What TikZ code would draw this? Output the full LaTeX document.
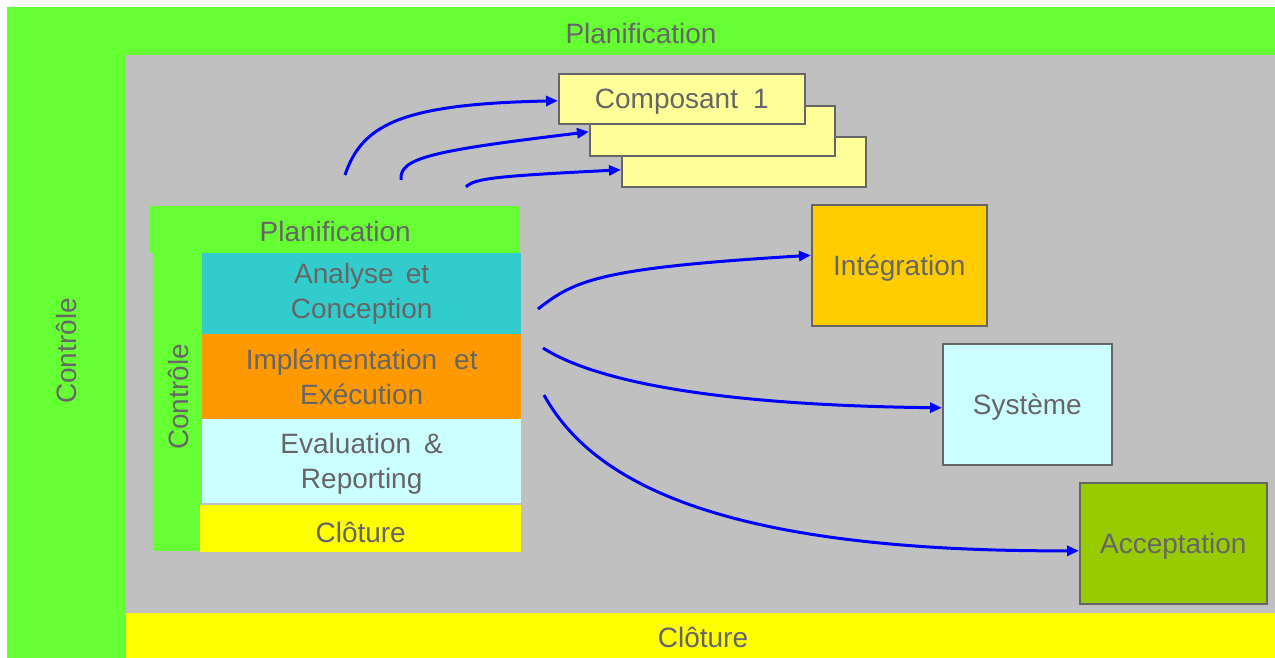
\documentclass[tikz,border=0pt]{standalone}
\usepackage{fontspec}
\setmainfont{Liberation Sans}
\usetikzlibrary{arrows.meta}
\definecolor{bandgreen}{HTML}{66FF33}
\definecolor{field}{HTML}{C0C0C0}
\definecolor{bandyellow}{HTML}{FFFF00}
\definecolor{teal}{HTML}{33CCCC}
\definecolor{orangeb}{HTML}{FF9900}
\definecolor{paleblue}{HTML}{CCFFFF}
\definecolor{paleyellow}{HTML}{FFFF99}
\definecolor{gold}{HTML}{FFCC00}
\definecolor{olive}{HTML}{99CC00}
\definecolor{txt}{HTML}{666666}
\definecolor{flow}{HTML}{0000FF}
\tikzset{
  lbl/.style={text=txt, font=\fontsize{28}{35}\selectfont, align=center},
  area/.style={rectangle, inner sep=0pt, anchor=north west, draw=none, lbl},
  level/.style={rectangle, inner sep=0pt, anchor=north west, draw=txt, line width=1.6pt, lbl, text depth=0pt},
  flowarrow/.style={draw=flow, line width=3pt, -{Triangle[length=12pt,width=10pt]}},
}
\begin{document}
\begin{tikzpicture}[x=1pt, y=-1pt]
\useasboundingbox (0,0) rectangle (1275,658);

% outer frame: planning band, control column, work area, closure band
\node[area, fill=bandgreen, minimum width=1268pt, minimum height=651pt] (frame) at (7,7) {};
\node[area, fill=field, minimum width=1149pt, minimum height=558pt] (work) at (126,55) {};
\node[area, fill=bandyellow, minimum width=1149pt, minimum height=45pt] (closeband) at (126,613) {};
\node[lbl] (planTop) at (641,33) {Planification};
\node[lbl, rotate=90] (ctrlOut) at (66,351) {Contrôle};
\node[lbl] (closeOut) at (703,637) {Clôture};

% inner process block
\node[area, fill=bandgreen, minimum width=370pt, minimum height=47pt, text height=24.5pt] (planIn) at (150,206) {Planification};
\node[area, fill=bandgreen, minimum width=49pt, minimum height=298pt] (ctrlIn) at (153,253) {};
\node[lbl, rotate=90] (ctrlInTxt) at (178,397) {Contrôle};
\node[area, fill=teal, minimum width=319pt, minimum height=81pt] (analyse) at (202,253) {Analyse\hspace{12pt}et\\Conception};
\node[area, fill=orangeb, minimum width=319pt, minimum height=85pt] (impl) at (202,334) {Implémentation\hspace{17pt}et\\Exécution};
\node[area, fill=paleblue, minimum width=319pt, minimum height=84pt, text depth=0pt] (eval) at (202,419) {Evaluation\hspace{13pt}\&\\Reporting};
\node[area, fill=bandyellow, minimum width=321pt, minimum height=47pt, text height=27pt] (cloture) at (200,505) {Clôture};

% component test levels (stacked)
\node[level, fill=paleyellow, minimum width=244pt, minimum height=50pt] (comp3) at (621,136) {};
\node[level, fill=paleyellow, minimum width=245pt, minimum height=50pt] (comp2) at (589,105) {};
\node[level, fill=paleyellow, minimum width=246pt, minimum height=50pt] (comp1) at (558,73) {Composant\hspace{15pt}1};

% higher test levels
\node[level, fill=gold, minimum width=175pt, minimum height=121pt] (integ) at (811,204) {Intégration};
\node[level, fill=paleblue, minimum width=169pt, minimum height=121pt] (systeme) at (942,343) {Système};
\node[level, fill=olive, minimum width=187pt, minimum height=121pt] (accept) at (1079,482) {Acceptation};

% arrow origins
\coordinate (s1) at (345,175);
\coordinate (s2) at (401,180);
\coordinate (s3) at (466,187);
\coordinate (s4) at (538,309);
\coordinate (s5) at (543,348);
\coordinate (s6) at (544,395);

\draw[flowarrow] (s1) .. controls (362,125) and (400,104) .. ([yshift=-2pt]comp1.west);
\draw[flowarrow] (s2) .. controls (399,158) and (430,151) .. ([yshift=-1pt]comp2.west);
\draw[flowarrow] (s3) .. controls (474,178) and (500,176) .. ([yshift=-8pt]comp3.west);
\draw[flowarrow] (s4) .. controls (575,280) and (600,268) .. ([yshift=10pt]integ.west);
\draw[flowarrow] (s5) .. controls (590,378) and (700,405) .. ([yshift=-3.5pt]systeme.west);
\draw[flowarrow] (s6) .. controls (592,482) and (720,552) .. ([yshift=-7.5pt]accept.west);
\end{tikzpicture}
\end{document}
